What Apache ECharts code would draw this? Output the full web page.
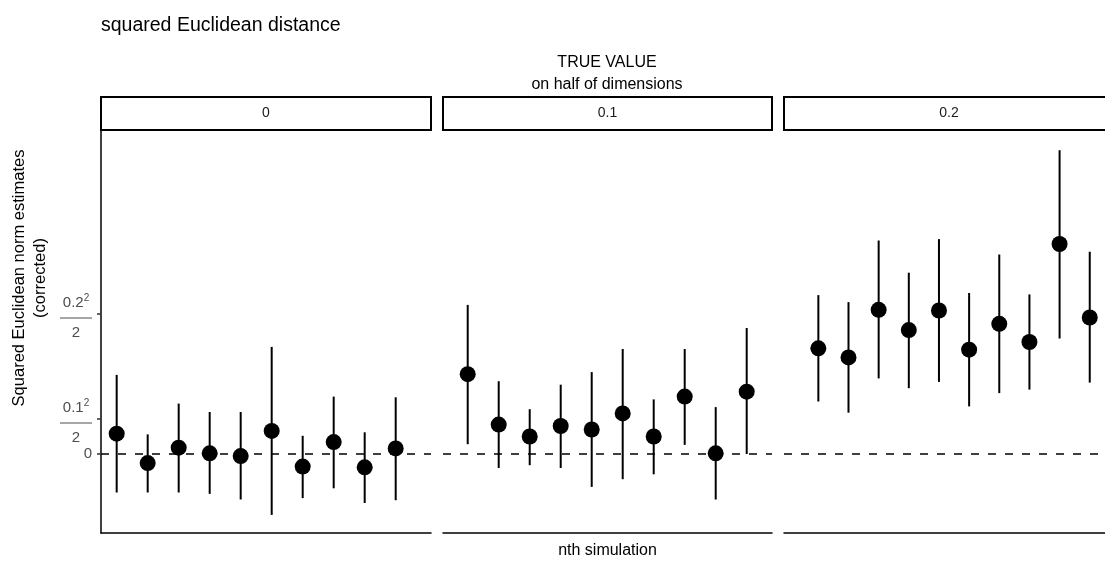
<!DOCTYPE html>
<html>
<head>
<meta charset="utf-8">
<script src="https://cdn.jsdelivr.net/npm/echarts@6/dist/echarts.min.js"></script>
<style>
  html, body { margin: 0; padding: 0; background: #fff; }
  #chart { width: 1105px; height: 568px; }
</style>
</head>
<body>
<div id="chart"></div>
<script>
// nth simulation inside each facet
const simulation = [1, 2, 3, 4, 5, 6, 7, 8, 9, 10];

// facet: true value on half of dimensions
const facetLabels = ['0', '0.1', '0.2'];

// corrected squared Euclidean norm estimates with interval bounds
const estimate0 = [0.0029, -0.0013, 0.0009, 0.0001, -0.0003, 0.0033, -0.0018, 0.0017, -0.0019, 0.0008];
const lower0    = [-0.0055, -0.0055, -0.0055, -0.0057, -0.0065, -0.0087, -0.0063, -0.0049, -0.0070, -0.0066];
const upper0    = [0.0113, 0.0028, 0.0072, 0.0060, 0.0060, 0.0153, 0.0026, 0.0082, 0.0031, 0.0081];

const estimate1 = [0.0114, 0.0042, 0.0025, 0.0040, 0.0035, 0.0058, 0.0025, 0.0082, 0.0001, 0.0089];
const lower1    = [0.0014, -0.0020, -0.0016, -0.0020, -0.0047, -0.0036, -0.0029, 0.0013, -0.0065, 0.0000];
const upper1    = [0.0213, 0.0104, 0.0064, 0.0099, 0.0117, 0.0150, 0.0078, 0.0150, 0.0067, 0.0180];

const estimate2 = [0.0151, 0.0138, 0.0206, 0.0177, 0.0205, 0.0149, 0.0186, 0.0160, 0.0300, 0.0195];
const lower2    = [0.0075, 0.0059, 0.0108, 0.0094, 0.0103, 0.0068, 0.0087, 0.0092, 0.0165, 0.0102];
const upper2    = [0.0227, 0.0217, 0.0305, 0.0259, 0.0307, 0.0230, 0.0285, 0.0228, 0.0434, 0.0289];

// y ticks: 0, 0.1^2/2, 0.2^2/2
const yTickValues = [0, 0.005, 0.02];
const yTickLabels = ['0', '0.1²/2', '0.2²/2'];

const facetEstimates = [estimate0, estimate1, estimate2];
const facetLower = [lower0, lower1, lower2];
const facetUpper = [upper0, upper1, upper2];

// ---- layout ----
const FONT = '"Liberation Sans", Arial, Helvetica, sans-serif';
const PANEL_TOP = 131;
const PANEL_HEIGHT = 402;
const STRIP_TOP = 97;
const STRIP_HEIGHT = 33;
const Y_MIN = -0.011286;
const Y_MAX = 0.046143;
const panels = [
  { left: 101, width: 330, xMin: 0.494, xMax: 11.139 },
  { left: 443, width: 329, xMin: 0.203, xMax: 10.816 },
  { left: 784, width: 330, xMin: -0.139, xMax: 10.506 }
];

// stacked fraction labels sit a few pixels below their tick
const FRACTION_DROP_PX = 4;
const unitsPerPx = (Y_MAX - Y_MIN) / PANEL_HEIGHT;
const yLabelPositions = yTickValues.map((v, k) =>
  yTickLabels[k].indexOf('/') < 0 ? v : v - FRACTION_DROP_PX * unitsPerPx);

// tick text: plain number, or a stacked fraction with a superscript in the numerator
function tickLabel(value) {
  let idx = -1, best = Infinity;
  yLabelPositions.forEach((v, k) => {
    const d = Math.abs(v - value);
    if (d < best) { best = d; idx = k; }
  });
  if (idx < 0 || best > 1e-7) return '';
  const lab = yTickLabels[idx];
  if (lab.indexOf('/') < 0) return '{plain|' + lab + '}';
  const parts = lab.split('/');
  const base = parts[0].replace('²', '');
  return '{num|' + base + '}{sup|2}\n{bar| }\n{den|' + parts[1] + '}';
}

const grids = [], xAxes = [], yAxes = [], series = [], graphics = [];

panels.forEach((p, i) => {
  grids.push({ left: p.left, top: PANEL_TOP, width: p.width, height: PANEL_HEIGHT, containLabel: false });

  xAxes.push({
    gridIndex: i, type: 'value', min: p.xMin, max: p.xMax,
    axisLine: { show: true, onZero: false, lineStyle: { color: '#000', width: 1.5 } },
    axisTick: { show: false }, axisLabel: { show: false }, splitLine: { show: false },
    name: i === 1 ? 'nth simulation' : '',
    nameLocation: 'middle', nameGap: 10,
    nameTextStyle: { fontFamily: FONT, fontSize: 16, color: '#000', verticalAlign: 'top' }
  });

  const yAxis = {
    gridIndex: i, type: 'value', min: Y_MIN, max: Y_MAX,
    splitLine: { show: false },
    axisLine: { show: i === 0, onZero: false, lineStyle: { color: '#000', width: 1.5 } },
    axisTick: { show: i === 0, customValues: yTickValues, length: 4, lineStyle: { color: '#333', width: 1.5 } },
    axisLabel: {
      show: i === 0, customValues: yLabelPositions, margin: 9,
      hideOverlap: false,
      formatter: tickLabel,
      color: '#4d4d4d', fontFamily: FONT,
      rich: {
        plain: { fontSize: 15, color: '#4d4d4d', fontFamily: FONT },
        num: { fontSize: 15, color: '#4d4d4d', fontFamily: FONT, align: 'center', lineHeight: 20 },
        sup: { fontSize: 10, color: '#4d4d4d', fontFamily: FONT, align: 'center', verticalAlign: 'top', lineHeight: 20 },
        bar: { width: 32, height: 1, lineHeight: 10, backgroundColor: '#4d4d4d', fontSize: 1, align: 'center' },
        den: { fontSize: 15, color: '#4d4d4d', fontFamily: FONT, align: 'center', lineHeight: 20 }
      }
    }
  };
  if (i === 0) {
    yAxis.name = 'Squared Euclidean norm estimates\n(corrected)';
    yAxis.nameLocation = 'middle';
    yAxis.nameRotate = 90;
    yAxis.nameGap = 50;
    yAxis.nameTextStyle = {
      fontFamily: FONT, fontSize: 16.5, lineHeight: 21, color: '#000', align: 'center',
      padding: [0, 0, 0, 108]
    };
  }
  yAxes.push(yAxis);

  const est = facetEstimates[i], lo = facetLower[i], hi = facetUpper[i];

  // interval bars
  series.push({
    type: 'custom', xAxisIndex: i, yAxisIndex: i, silent: true,
    data: simulation.map((s, j) => [s, lo[j], hi[j]]),
    encode: { x: 0, y: [1, 2] },
    renderItem: function (params, api) {
      const a = api.coord([api.value(0), api.value(1)]);
      const b = api.coord([api.value(0), api.value(2)]);
      return {
        type: 'line',
        shape: { x1: a[0], y1: a[1], x2: b[0], y2: b[1] },
        style: { stroke: '#000', lineWidth: 2 }
      };
    },
    z: 2
  });

  // point estimates + reference line at zero
  series.push({
    type: 'scatter', xAxisIndex: i, yAxisIndex: i, silent: true,
    data: simulation.map((s, j) => [s, est[j]]),
    symbol: 'circle', symbolSize: 16,
    itemStyle: { color: '#000', opacity: 1 },
    z: 3,
    markLine: {
      silent: true, symbol: ['none', 'none'], label: { show: false },
      lineStyle: { type: [8, 9], color: '#000', width: 1.6, opacity: 1 },
      data: [{ yAxis: 0 }],
      z: 1
    }
  });

  // facet strip
  graphics.push({
    type: 'rect',
    shape: { x: p.left, y: STRIP_TOP, width: p.width, height: STRIP_HEIGHT },
    style: { fill: '#fff', stroke: '#000', lineWidth: 2 },
    textContent: { style: { text: facetLabels[i], fontFamily: FONT, fontSize: 14, fill: '#1a1a1a' } },
    textConfig: { position: 'inside' }
  });
});

const chart = echarts.init(document.getElementById('chart'), null, { renderer: 'canvas' });
chart.setOption({
  animation: false,
  backgroundColor: '#fff',
  title: [
    {
      text: 'squared Euclidean distance', left: 101, top: 16, padding: 0,
      textStyle: { fontFamily: FONT, fontSize: 19.5, fontWeight: 'normal', color: '#000' }
    },
    {
      text: 'TRUE VALUE\non half of dimensions', left: 607, top: 52, padding: 0, textAlign: 'center',
      textStyle: { fontFamily: FONT, fontSize: 16, fontWeight: 'normal', color: '#000', lineHeight: 22 }
    }
  ],
  grid: grids,
  xAxis: xAxes,
  yAxis: yAxes,
  series: series,
  graphic: graphics
});
</script>
</body>
</html>
